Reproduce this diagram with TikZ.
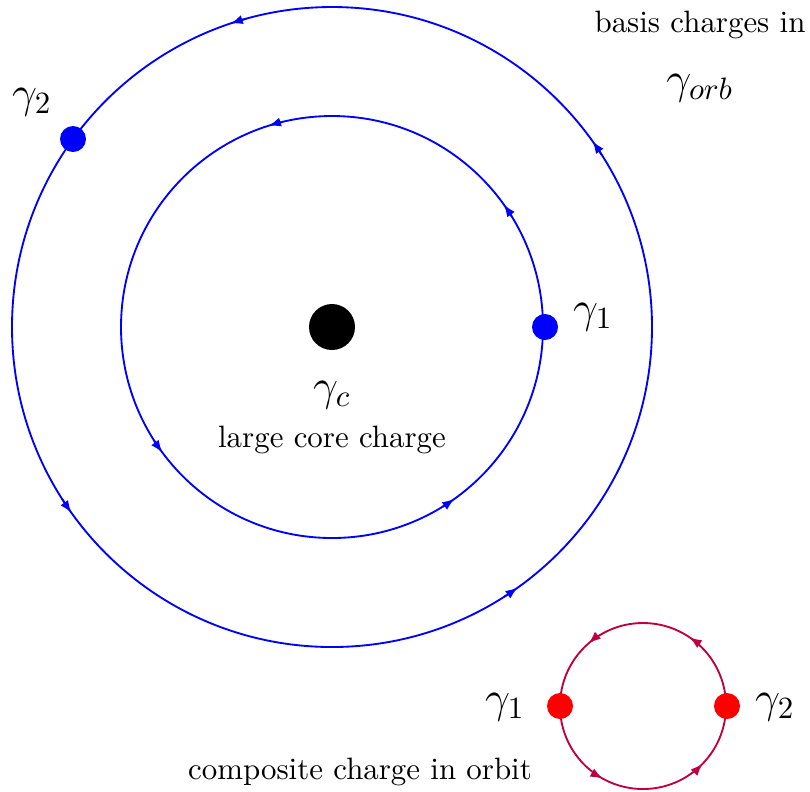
\documentclass[tikz,border=0pt]{standalone}
\usetikzlibrary{arrows.meta,calc}
\begin{document}
\begin{tikzpicture}[x=0.3236pt,y=-0.3236pt,
  orbit/.style={blue,line width=0.6pt},
  corbit/.style={purple,line width=0.6pt},
  tipb/.style={orbit,-{Latex[length=4pt,width=3pt]}},
  tipp/.style={corbit,-{Latex[length=4pt,width=3pt]}},
  bdot/.style={circle,fill=blue,inner sep=0pt,minimum size=26*0.3236pt},
  rdot/.style={circle,fill=red,inner sep=0pt,minimum size=26*0.3236pt},
  core/.style={circle,fill=black,inner sep=0pt,minimum size=46*0.3236pt},
  lbl/.style={inner sep=0pt}]
\useasboundingbox (0,0) rectangle (810,791);
\coordinate (C) at (332,327);
\coordinate (S) at (643,706);
% orbits
\draw[orbit] (C) circle[radius=320*0.3236pt];
\draw[orbit] (C) circle[radius=211*0.3236pt];
\draw[corbit] (S) circle[radius=83*0.3236pt];
% arrow tips
\foreach \a in {35.5,108.5,215.5,305.5}{
  \draw[tipb] ($(C)+(\a-3:320*0.3236pt)$) arc[start angle=\a-3,end angle=\a,radius=320*0.3236pt];
}
\foreach \a in {35.5,107.5,216.5,305.5}{
  \draw[tipb] ($(C)+(\a-4:211*0.3236pt)$) arc[start angle=\a-4,end angle=\a,radius=211*0.3236pt];
}
\foreach \a in {56,131,241,316}{
  \draw[tipp] ($(S)+(\a-8:83*0.3236pt)$) arc[start angle=\a-8,end angle=\a,radius=83*0.3236pt];
}
% charges
\node[core] (gc) at (C) {};
\node[bdot] (g1) at (545,327) {};
\node[bdot] (g2) at (73,139) {};
\node[rdot] (r1) at (560,706) {};
\node[rdot] (r2) at (727,706) {};
% labels
\node[lbl] (tb) at (700,25) {basis charges in};
\node[lbl] (to) at (700,88) {\Large $\gamma_{orb}$};
\node[lbl] (l2) at (32,102) {\Large $\gamma_2$};
\node[lbl] (l1) at (593,317) {\Large $\gamma_1$};
\node[lbl] (lc) at (332,395) {\Large $\gamma_c$};
\node[lbl] (tc) at (332,440) {large core charge};
\node[lbl] (s1) at (505,707) {\Large $\gamma_1$};
\node[lbl] (s2) at (775,707) {\Large $\gamma_2$};
\node[lbl] (tcm) at (360,772) {composite charge in orbit};
\end{tikzpicture}
\end{document}
